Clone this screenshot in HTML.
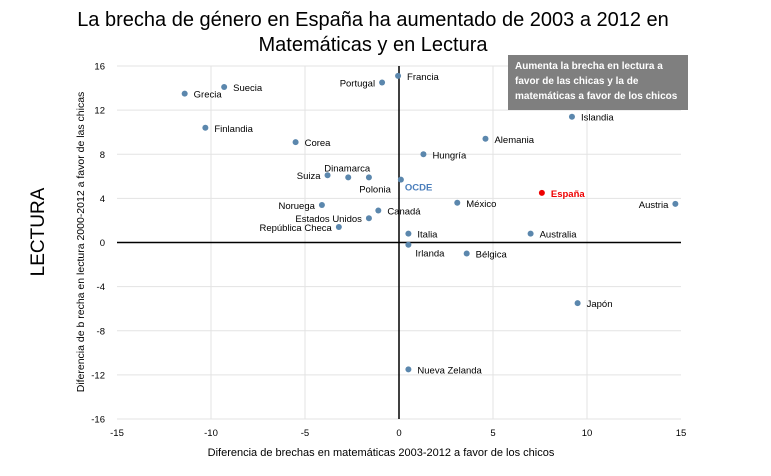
<!DOCTYPE html>
<html><head><meta charset="utf-8"><style>
body{margin:0;background:#fff;width:771px;height:471px;overflow:hidden;font-family:"Liberation Sans",sans-serif}
svg text{font-family:"Liberation Sans",sans-serif}
</style></head><body>
<svg width="771" height="471">
<text x="373" y="26" font-size="20" text-anchor="middle">La brecha de género en España ha aumentado de 2003 a 2012 en</text>
<text x="373" y="51" font-size="20" text-anchor="middle">Matemáticas y en Lectura</text>
<text transform="translate(44,232) rotate(-90)" font-size="19" text-anchor="middle">LECTURA</text>
<text transform="translate(84,242) rotate(-90)" font-size="10.5" text-anchor="middle">Diferencia de b recha en lectura 2000-2012 a favor de las chicas</text>
<text x="381" y="456" font-size="11" text-anchor="middle">Diferencia de brechas en matemáticas 2003-2012 a favor de los chicos</text>
<g id="grid"></g><g id="axes"></g><g id="pts"></g>
<rect x="508" y="55" width="180" height="55" fill="#7f7f7f"/>
<text font-size="10" font-weight="bold" fill="#fff"><tspan x="515" y="69">Aumenta la brecha en lectura a</tspan><tspan x="515" y="84">favor de las chicas y la de</tspan><tspan x="515" y="99">matemáticas a favor de los chicos</tspan></text>
</svg>
<script>
const countries=["Grecia","Suecia","Finlandia","Corea","Portugal","Francia","Suiza","Dinamarca","Polonia","OCDE","Noruega","Canadá","Estados Unidos","República Checa","Italia","Irlanda","Hungría","Alemania","Islandia","México","España","Austria","Australia","Bélgica","Japón","Nueva Zelanda"];
const mathDiff=[-11.4,-9.3,-10.3,-5.5,-0.9,-0.05,-3.8,-2.7,-1.6,0.1,-4.1,-1.1,-1.6,-3.2,0.5,0.5,1.3,4.6,9.2,3.1,7.6,14.7,7.0,3.6,9.5,0.5];
const readDiff=[13.5,14.1,10.4,9.1,14.5,15.1,6.1,5.9,5.9,5.7,3.4,2.9,2.2,1.4,0.8,-0.2,8.0,9.4,11.4,3.6,4.5,3.5,0.8,-1.0,-5.5,-11.5];
const labelPos=["r","r","r","r","l","r","l","ta","bl","b","l","r","l","l","r","br","r","r","r","r","r","l","r","r","r","r"];
const xTicks=[-15,-10,-5,0,5,10,15];
const yTicks=[-16,-12,-8,-4,0,4,8,12,16];
const X0=117,X1=681,Y0=419,Y1=66;
const sx=v=>X0+(v+15)/30*(X1-X0);
const sy=v=>Y0-(v+16)/32*(Y0-Y1);
const NS="http://www.w3.org/2000/svg";
function mk(p,t,a){const e=document.createElementNS(NS,t);for(const k in a)e.setAttribute(k,a[k]);p.appendChild(e);return e;}
const g=document.getElementById('grid'),ax=document.getElementById('axes'),pts=document.getElementById('pts');
xTicks.forEach(t=>{
 if(t!==0&&Math.abs(t)!==15){const l=mk(g,'line',{x1:sx(t),x2:sx(t),y1:Y1,y2:Y0,stroke:'#e3e3e3'});
 
 }
 const tx=mk(ax,'text',{x:sx(t),y:Y0+17,'font-size':9.5,'text-anchor':'middle'});tx.textContent=t;
 
 
});
yTicks.forEach(t=>{
 if(t!==0){const l=mk(g,'line',{x1:X0,x2:X1,y1:sy(t),y2:sy(t),stroke:'#e3e3e3'});
 
 }
 const tx=mk(ax,'text',{x:X0-12,y:sy(t)+3.5,'font-size':9.5,'text-anchor':'end'});tx.textContent=t;
 
 
});
let l=mk(ax,'line',{x1:sx(0),x2:sx(0),y1:Y1,y2:Y0,stroke:'#000','stroke-width':1.5});


l=mk(ax,'line',{x1:X0,x2:X1,y1:sy(0),y2:sy(0),stroke:'#000','stroke-width':1.5});


countries.forEach((c,i)=>{
 const x=sx(mathDiff[i]),y=sy(readDiff[i]);
 const esp=c==="España",oc=c==="OCDE";
 const d=mk(pts,'circle',{cx:x,cy:y,r:3,fill:esp?'#e00':'#5b87ad'});
 
 
 let tx,ty,an,p=labelPos[i];
 if(p==="r"){tx=x+9;ty=y+4;an='start';}
 else if(p==="l"){tx=x-7;ty=y+4;an='end';}
 else if(p==="ta"){tx=x-1;ty=y-6;an='middle';}
 else if(p==="bl"){tx=x+22;ty=y+15;an='end';}
 else if(p==="b"){tx=x+4;ty=y+11;an='start';}
 else {tx=x+7;ty=y+12;an='start';}
 const t=mk(pts,'text',{x:tx,y:ty,'font-size':9.5,'text-anchor':an,fill:esp?'#e00':(oc?'#4a7ebb':'#000'),'font-weight':(esp||oc)?'bold':'normal'});
 t.textContent=c;
 
 
});
</script>
</body></html>
